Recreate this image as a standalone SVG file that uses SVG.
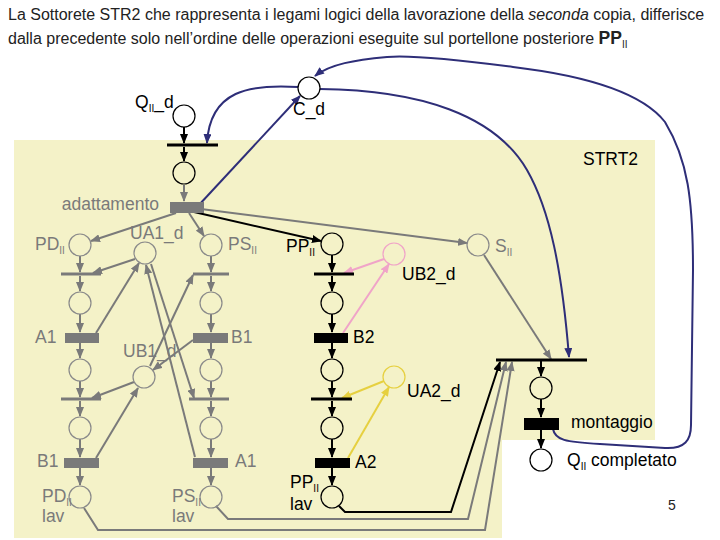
<svg xmlns="http://www.w3.org/2000/svg" width="720" height="540" viewBox="0 0 720 540">
<defs>
<style>
text{font-family:"Liberation Sans",Arial,sans-serif;font-size:17.5px}
.g{fill:#7a7a7a}
.k{fill:#000}
.sub{font-size:10px}
.pl{fill:none;stroke-width:1.2}
.pk{stroke:#000}
.pg{stroke:#8a8a8a}
.lk{fill:none;stroke:#000;stroke-width:2}
.lg{fill:none;stroke:#7a7a7a;stroke-width:2}
.lb{fill:none;stroke:#2e2e78;stroke-width:2}
.lp{fill:none;stroke:#f0a4c8;stroke-width:2}
.ly{fill:none;stroke:#e6d040;stroke-width:2}
.thk{stroke:#000;stroke-width:3}
.thg{stroke:#7a7a7a;stroke-width:3}
</style>
<marker id="ak" markerUnits="userSpaceOnUse" markerWidth="10" markerHeight="8" refX="9" refY="4" orient="auto"><path d="M0,0 L10,4 L0,8 z" fill="#000"/></marker>
<marker id="ag" markerUnits="userSpaceOnUse" markerWidth="10" markerHeight="8" refX="9" refY="4" orient="auto"><path d="M0,0 L10,4 L0,8 z" fill="#7a7a7a"/></marker>
<marker id="ab" markerUnits="userSpaceOnUse" markerWidth="10" markerHeight="8" refX="9" refY="4" orient="auto"><path d="M0,0 L10,4 L0,8 z" fill="#2e2e78"/></marker>
<marker id="ap" markerUnits="userSpaceOnUse" markerWidth="10" markerHeight="8" refX="9" refY="4" orient="auto"><path d="M0,0 L10,4 L0,8 z" fill="#f0a4c8"/></marker>
<marker id="ay" markerUnits="userSpaceOnUse" markerWidth="10" markerHeight="8" refX="9" refY="4" orient="auto"><path d="M0,0 L10,4 L0,8 z" fill="#e6d040"/></marker>
</defs>
<rect width="720" height="540" fill="#fff"/>
<path d="M14,140 H655 V440 H502 V538 H14 Z" fill="#F4F2C8"/>

<g id="title" fill="#222">
<text x="8" y="20" style="font-size:16px">La Sottorete STR2 che rappresenta i legami logici della lavorazione della <tspan font-style="italic">seconda</tspan> copia, differisce</text>
<text x="8" y="44" style="font-size:16px">dalla precedente solo nell’ordine delle operazioni eseguite sul portellone posteriore <tspan font-weight="bold" style="font-size:17.5px">PP</tspan><tspan class="sub" dy="4">II</tspan></text>
</g>
<text id="strt2" x="583" y="165" class="k">STRT2</text>
<text id="page" x="668" y="510" style="font-size:14px" fill="#222">5</text>

<g id="connectors">
<path class="lk" d="M184,127 L184,143" marker-end="url(#ak)"/>
<path class="lk" d="M184,147 L184,161" marker-end="url(#ak)"/>
<path class="lg" d="M184,185 L184,201" marker-end="url(#ag)"/>
<path class="lk" d="M194,212 L321,241" marker-end="url(#ak)"/>
<path class="lg" d="M201,209 L467,243" marker-end="url(#ag)"/>
<path class="lg" d="M176,213 L91,241" marker-end="url(#ag)"/>
<path class="lg" d="M189,213 L204,236" marker-end="url(#ag)"/>
<path class="lb" d="M198,206 L300,96" marker-end="url(#ab)"/>
<path class="lb" d="M298,87 C250,84 210,90 207,143" marker-end="url(#ab)"/>
<path class="lb" d="M320,89 C420,90 495,115 527,170 C550,210 562,270 569,357" marker-end="url(#ab)"/>
<path class="lb" d="M553,429 C555,440 565,442 600,444 L665,448 C685,449 691,440 691,425 L693,270 C693,200 688,160 665,122 C640,90 580,75 513,67 C460,60 410,55 387,57 C355,60 330,64 315,76" marker-end="url(#ab)"/>
<path class="lp" d="M384,259 L344,273" marker-end="url(#ap)"/>
<path class="lp" d="M343,333 L389,264" marker-end="url(#ap)"/>
<path class="ly" d="M384,381 L342,398" marker-end="url(#ay)"/>
<path class="ly" d="M348,458 L389,387" marker-end="url(#ay)"/>
<path class="lk" d="M332,255 L332,272" marker-end="url(#ak)"/>
<path class="lk" d="M332,276 L332,291" marker-end="url(#ak)"/>
<path class="lk" d="M332,314 L332,332" marker-end="url(#ak)"/>
<path class="lk" d="M332,343 L332,358" marker-end="url(#ak)"/>
<path class="lk" d="M332,381 L332,397" marker-end="url(#ak)"/>
<path class="lk" d="M332,401 L332,416" marker-end="url(#ak)"/>
<path class="lk" d="M332,439 L332,457" marker-end="url(#ak)"/>
<path class="lk" d="M332,468 L332,485" marker-end="url(#ak)"/>
<path class="lk" d="M339,506 L345,512 L451,512 L500,362" marker-end="url(#ak)"/>
<path class="lg" d="M216,506 L228,519 L468,519 L506,362" marker-end="url(#ag)"/>
<path class="lg" d="M84,508 L98,530 L485,530 L512,362" marker-end="url(#ag)"/>
<path class="lg" d="M484,255 L551,359" marker-end="url(#ag)"/>
<path class="lk" d="M541,361 L541,376" marker-end="url(#ak)"/>
<path class="lk" d="M541,399 L541,417" marker-end="url(#ak)"/>
<path class="lk" d="M541,430 L541,448" marker-end="url(#ak)"/>
<path class="lg" d="M80,256 L80,272" marker-end="url(#ag)"/>
<path class="lg" d="M80,276 L80,291" marker-end="url(#ag)"/>
<path class="lg" d="M80,314 L80,332" marker-end="url(#ag)"/>
<path class="lg" d="M80,343 L80,358" marker-end="url(#ag)"/>
<path class="lg" d="M80,381 L80,397" marker-end="url(#ag)"/>
<path class="lg" d="M80,401 L80,416" marker-end="url(#ag)"/>
<path class="lg" d="M80,439 L80,457" marker-end="url(#ag)"/>
<path class="lg" d="M80,468 L80,485" marker-end="url(#ag)"/>
<path class="lg" d="M211,256 L211,272" marker-end="url(#ag)"/>
<path class="lg" d="M211,276 L211,291" marker-end="url(#ag)"/>
<path class="lg" d="M211,314 L211,332" marker-end="url(#ag)"/>
<path class="lg" d="M211,343 L211,358" marker-end="url(#ag)"/>
<path class="lg" d="M211,381 L211,397" marker-end="url(#ag)"/>
<path class="lg" d="M211,401 L211,416" marker-end="url(#ag)"/>
<path class="lg" d="M211,439 L211,457" marker-end="url(#ag)"/>
<path class="lg" d="M211,468 L211,485" marker-end="url(#ag)"/>
<path class="lg" d="M135,259 L93,273" marker-end="url(#ag)"/>
<path class="lg" d="M96,333 L139,263" marker-end="url(#ag)"/>
<path class="lg" d="M151,264 L194,398" marker-end="url(#ag)"/>
<path class="lg" d="M195,457 L146,265" marker-end="url(#ag)"/>
<path class="lg" d="M150,366 L193,275" marker-end="url(#ag)"/>
<path class="lg" d="M193,340 L153,370" marker-end="url(#ag)"/>
<path class="lg" d="M134,382 L92,398" marker-end="url(#ag)"/>
<path class="lg" d="M96,458 L138,388" marker-end="url(#ag)"/>
</g>

<g id="QII_d"><circle class="pl pk" cx="184" cy="116" r="11"/><text x="135" y="108" class="k">Q<tspan class="sub" dy="4">II</tspan><tspan dy="-4">_d</tspan></text></g>
<g id="C_d"><circle class="pl pk" cx="309" cy="88" r="11"/><text x="293" y="115" class="k">C_d</text></g>
<g id="T0"><line class="thk" x1="167" y1="145" x2="218" y2="145"/></g>
<g id="P1"><circle class="pl pk" cx="184" cy="173" r="11"/></g>
<g id="adattamento"><rect x="170" y="202" width="34" height="11" fill="#7a7a7a"/><text x="159" y="210" class="g" text-anchor="end">adattamento</text></g>

<g id="PD_II"><circle class="pl pg" cx="80" cy="245" r="11"/><text x="35" y="250" class="g">PD<tspan class="sub" dy="4">II</tspan></text></g>
<g id="TL1"><line class="thg" x1="61" y1="274" x2="101" y2="274"/></g>
<g id="PL2"><circle class="pl pg" cx="80" cy="303" r="11"/></g>
<g id="A1_L"><rect x="65" y="333" width="34" height="10" fill="#7a7a7a"/><text x="35" y="343" class="g">A1</text></g>
<g id="PL3"><circle class="pl pg" cx="80" cy="370" r="11"/></g>
<g id="TL2"><line class="thg" x1="61" y1="399" x2="101" y2="399"/></g>
<g id="PL4"><circle class="pl pg" cx="80" cy="428" r="11"/></g>
<g id="B1_L"><rect x="64" y="458" width="35" height="10" fill="#7a7a7a"/><text x="37" y="467" class="g">B1</text></g>
<g id="PD_II_lav"><circle class="pl pg" cx="80" cy="497" r="11"/><text x="42" y="502" class="g">PD<tspan class="sub" dy="4">II</tspan></text><text x="42" y="522" class="g">lav</text></g>

<g id="UA1_d"><circle class="pl pg" cx="145" cy="253" r="11"/><text x="130" y="239" class="g">UA1_d</text></g>
<g id="UB1_d"><circle class="pl pg" cx="144" cy="377" r="11"/><text x="123" y="357" class="g">UB1_d</text></g>

<g id="PS_II"><circle class="pl pg" cx="211" cy="245" r="11"/><text x="228" y="250" class="g">PS<tspan class="sub" dy="4">II</tspan></text></g>
<g id="TR1"><line class="thg" x1="193" y1="274" x2="229" y2="274"/></g>
<g id="PR2"><circle class="pl pg" cx="211" cy="303" r="11"/></g>
<g id="B1_R"><rect x="193" y="333" width="35" height="10" fill="#7a7a7a"/><text x="231" y="343" class="g">B1</text></g>
<g id="PR3"><circle class="pl pg" cx="211" cy="370" r="11"/></g>
<g id="TR2"><line class="thg" x1="189" y1="399" x2="229" y2="399"/></g>
<g id="PR4"><circle class="pl pg" cx="211" cy="428" r="11"/></g>
<g id="A1_R"><rect x="193" y="458" width="35" height="10" fill="#7a7a7a"/><text x="235" y="467" class="g">A1</text></g>
<g id="PS_II_lav"><circle class="pl pg" cx="211" cy="497" r="11"/><text x="172" y="502" class="g">PS<tspan class="sub" dy="4">II</tspan></text><text x="172" y="522" class="g">lav</text></g>

<g id="PP_II"><circle class="pl pk" cx="332" cy="244" r="11"/><text x="286" y="252" class="k">PP<tspan class="sub" dy="4">II</tspan></text></g>
<g id="TP1"><line class="thk" x1="314" y1="274" x2="354" y2="274"/></g>
<g id="PP2"><circle class="pl pk" cx="332" cy="303" r="11"/></g>
<g id="B2"><rect x="314" y="333" width="34" height="10" fill="#000"/><text x="353" y="343" class="k">B2</text></g>
<g id="PP3"><circle class="pl pk" cx="332" cy="370" r="11"/></g>
<g id="TP2"><line class="thk" x1="311" y1="399" x2="352" y2="399"/></g>
<g id="PP4"><circle class="pl pk" cx="332" cy="428" r="11"/></g>
<g id="A2"><rect x="315" y="458" width="35" height="10" fill="#000"/><text x="355" y="468" class="k">A2</text></g>
<g id="PP_II_lav"><circle class="pl pk" cx="332" cy="497" r="11"/><text x="290" y="488" class="k">PP<tspan class="sub" dy="4">II</tspan></text><text x="290" y="510" class="k">lav</text></g>
<g id="UB2_d"><circle class="pl" stroke="#f0a4c8" cx="394" cy="254" r="11"/><text x="402" y="280" class="k">UB2_d</text></g>
<g id="UA2_d"><circle class="pl" stroke="#e6d040" cx="394" cy="377" r="11"/><text x="407" y="397" class="k">UA2_d</text></g>

<g id="S_II"><circle class="pl pg" cx="478" cy="245" r="11"/><text x="495" y="252" class="g">S<tspan class="sub" dy="4">II</tspan></text></g>
<g id="Tmerge"><line class="thk" x1="496" y1="360" x2="587" y2="360"/></g>
<g id="PM"><circle class="pl pk" cx="541" cy="388" r="11"/></g>
<g id="montaggio"><rect x="524" y="418" width="35" height="12" fill="#000"/><text x="571" y="428" class="k">montaggio</text></g>
<g id="QII_completato"><circle class="pl pk" cx="541" cy="460" r="11"/><text x="567" y="466" class="k">Q<tspan class="sub" dy="4">II</tspan><tspan dy="-4"> completato</tspan></text></g>
</svg>
